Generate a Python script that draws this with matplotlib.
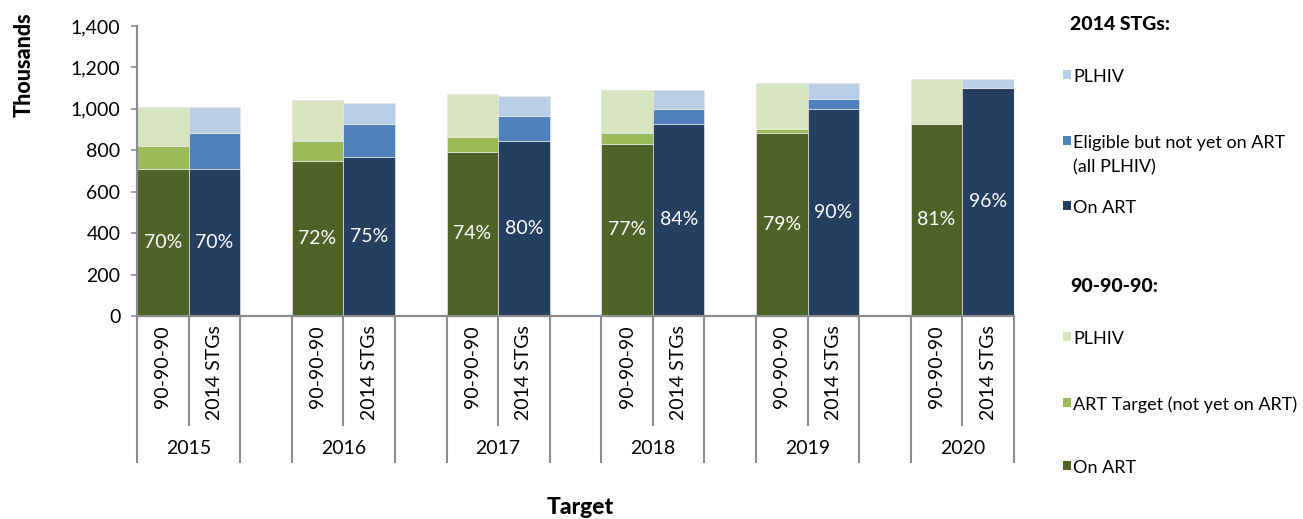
import matplotlib
matplotlib.use("Agg")
import matplotlib.pyplot as plt
from matplotlib.patches import Rectangle
import matplotlib.transforms as mtransforms

plt.rcParams['font.family'] = ['Lato', 'DejaVu Sans']

# ---- data (thousands) ----
years = ['2015', '2016', '2017', '2018', '2019', '2020']
sub_labels = ['90-90-90', '2014 STGs']

# 90-90-90 scenario (stacked segments)
n90_on_art = [710, 750, 792, 832, 885, 927]
n90_art_target = [111, 93, 72, 51, 19, 0]
n90_plhiv = [188, 198, 208, 210, 219, 217]
n90_pct = ['70%', '72%', '74%', '77%', '79%', '81%']

# 2014 STGs scenario (stacked segments)
stg_on_art = [710, 769, 843, 927, 999, 1101]
stg_eligible = [175, 158, 123, 72, 50, 0]
stg_plhiv = [124, 103, 96, 94, 74, 43]
stg_pct = ['70%', '75%', '80%', '84%', '90%', '96%']

yticks = [0, 200, 400, 600, 800, 1000, 1200, 1400]

# ---- colours ----
c90_on = '#4F6228'
c90_tgt = '#9BBB59'
c90_plh = '#D7E4BD'
cst_on = '#243F60'
cst_el = '#4F81BD'
cst_plh = '#B9CDE5'
axis_col = '#8C8C8C'

W, H = 1303, 519
fig = plt.figure(figsize=(W / 100, H / 100), dpi=100)
ax_l, ax_r, ax_t, ax_b = 137, 1014, 26, 316
ax = fig.add_axes([ax_l / W, 1 - ax_b / H, (ax_r - ax_l) / W, (ax_b - ax_t) / H])

x90 = [3 * i for i in range(len(years))]
xst = [3 * i + 1 for i in range(len(years))]
ekw = dict(width=1.0, edgecolor='#E6E6E6', linewidth=0.5)

b1 = [a for a in n90_on_art]
b2 = [a + b for a, b in zip(n90_on_art, n90_art_target)]
ax.bar(x90, n90_on_art, color=c90_on, **ekw)
ax.bar(x90, n90_art_target, bottom=b1, color=c90_tgt, **ekw)
ax.bar(x90, n90_plhiv, bottom=b2, color=c90_plh, **ekw)

s1 = [a for a in stg_on_art]
s2 = [a + b for a, b in zip(stg_on_art, stg_eligible)]
ax.bar(xst, stg_on_art, color=cst_on, **ekw)
ax.bar(xst, stg_eligible, bottom=s1, color=cst_el, **ekw)
ax.bar(xst, stg_plhiv, bottom=s2, color=cst_plh, **ekw)

for x, v, t in zip(x90, n90_on_art, n90_pct):
    ax.text(x, v / 2, t, ha='center', va='center', color='white', fontsize=14)
for x, v, t in zip(xst, stg_on_art, stg_pct):
    ax.text(x, v / 2, t, ha='center', va='center', color='white', fontsize=14)

ax.set_xlim(-0.5, 3 * len(years) - 1.5)
ax.set_ylim(0, 1400)
ax.set_yticks(yticks)
ax.set_yticklabels([f'{v:,}' for v in yticks], fontsize=14)
ax.tick_params(axis='y', length=4, width=1.2, color=axis_col, pad=8)
ax.set_xticks([])
for s in ['top', 'right']:
    ax.spines[s].set_visible(False)
for s in ['left', 'bottom']:
    ax.spines[s].set_color(axis_col)
    ax.spines[s].set_linewidth(1.6)

# multi-level category axis
ph = ax_b - ax_t
trans = mtransforms.blended_transform_factory(ax.transData, ax.transAxes)
short_y = -109 / ph
long_y = -146 / ph
for i, yr in enumerate(years):
    for xe, yb in [(3 * i - 0.5, long_y), (3 * i + 0.5, short_y), (3 * i + 1.5, long_y)]:
        ax.plot([xe, xe], [0, yb], transform=trans, color=axis_col, lw=1.5, clip_on=False)
    for j, lab in enumerate(sub_labels):
        ax.text(3 * i + j, -9 / ph, lab, transform=trans, rotation=90, ha='center', va='top',
                fontsize=14)
    ax.text(3 * i + 0.5, -133 / ph, yr, transform=trans, ha='center', va='center', fontsize=14)

fig.text(24 / W, 1 - 65 / H, 'Thousands', rotation=90, ha='center', va='center',
         fontsize=15.5, fontweight='black')
fig.text(580 / W, 1 - 507 / H, 'Target', ha='center', va='center', fontsize=16.5, fontweight='black')

# legend (manual)
LFS = 13

def head(y, txt):
    fig.text(1070 / W, 1 - y / H, txt, ha='left', va='center', fontsize=14, fontweight='black')

def swatch(y, col):
    fig.add_artist(Rectangle((1063 / W, 1 - (y + 2) / H), 8 / W, 9 / H, transform=fig.transFigure,
                             facecolor=col, edgecolor='none'))

def item(y, col, txt):
    swatch(y, col)
    fig.text(1073 / W, 1 - y / H, txt, ha='left', va='center', fontsize=LFS)

head(25, '2014 STGs:')
item(77, cst_plh, 'PLHIV')
item(143, cst_el, 'Eligible but not yet on ART')
fig.text(1073 / W, 1 - 167 / H, '(all PLHIV)', ha='left', va='center', fontsize=LFS)
item(208, cst_on, 'On ART')
head(287, '90-90-90:')
item(339, c90_plh, 'PLHIV')
item(405, c90_tgt, 'ART Target (not yet on ART)')
item(468, c90_on, 'On ART')

fig.savefig('out.png', dpi=100)
